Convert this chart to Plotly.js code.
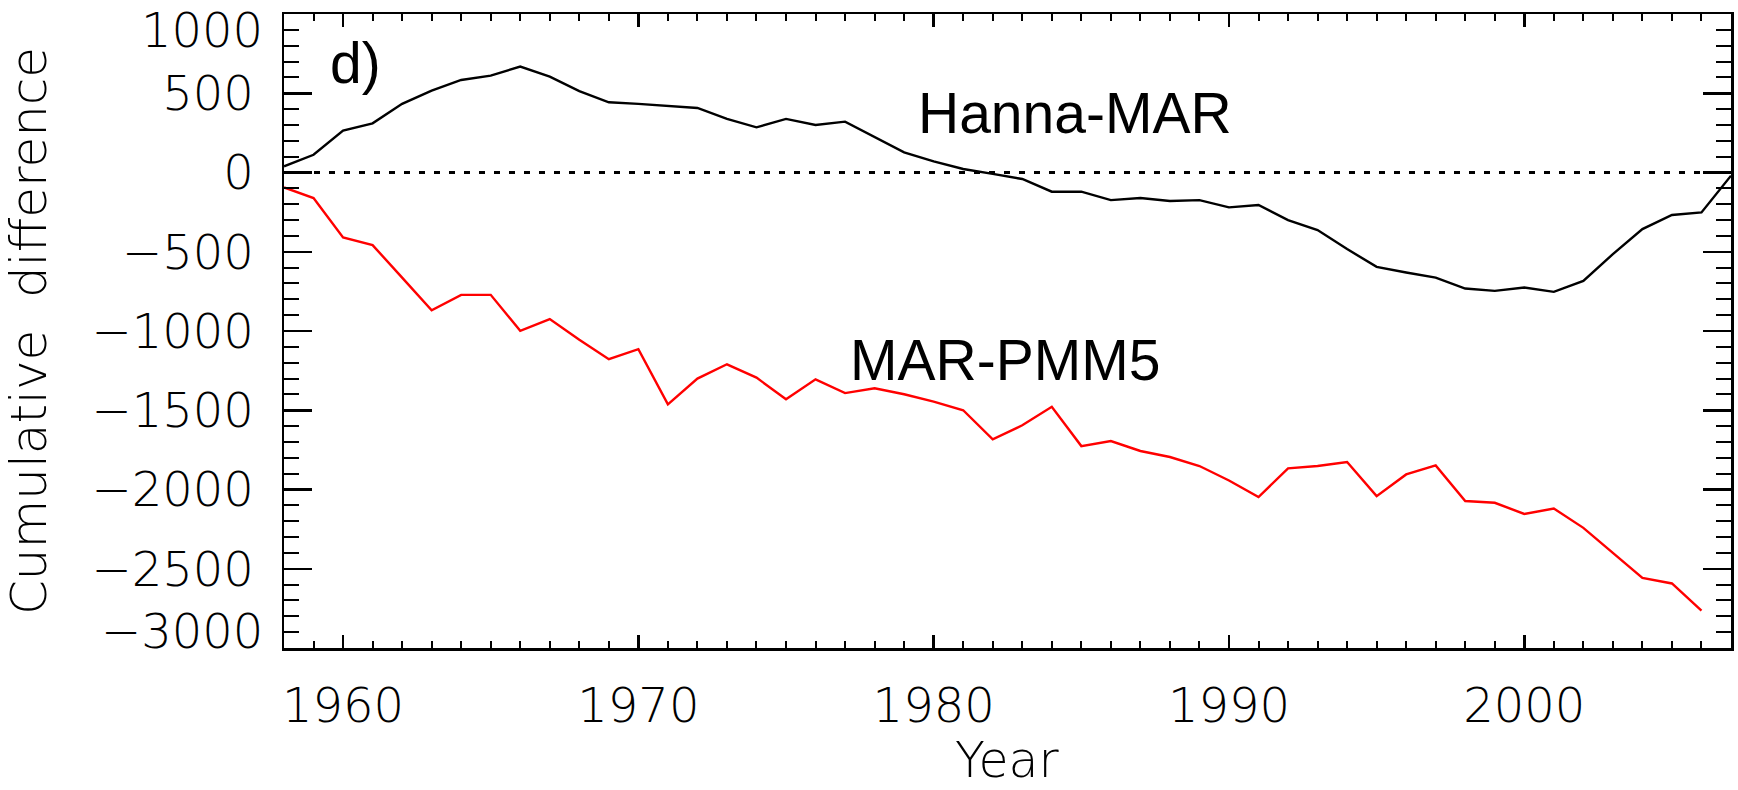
<!DOCTYPE html>
<html>
<head>
<meta charset="utf-8">
<script src="https://cdn.plot.ly/plotly-3.0.1.min.js"></script>
<style>
html, body { margin: 0; padding: 0; background: #ffffff; }
#chart { width: 1738px; height: 790px; }
</style>
</head>
<body>
<div id="chart"></div>
<script>
// Years of the record
const yearsHanna = [1958,1959,1960,1961,1962,1963,1964,1965,1966,1967,1968,1969,1970,1971,1972,1973,1974,1975,1976,1977,1978,1979,1980,1981,1982,1983,1984,1985,1986,1987,1988,1989,1990,1991,1992,1993,1994,1995,1996,1997,1998,1999,2000,2001,2002,2003,2004,2005,2006,2007];
const yearsPmm5 = [1958,1959,1960,1961,1962,1963,1964,1965,1966,1967,1968,1969,1970,1971,1972,1973,1974,1975,1976,1977,1978,1979,1980,1981,1982,1983,1984,1985,1986,1987,1988,1989,1990,1991,1992,1993,1994,1995,1996,1997,1998,1999,2000,2001,2002,2003,2004,2005,2006];

// Cumulative difference, Hanna - MAR
const hannaMar = [39,112,264,310,433,517,584,611,668,605,514,443,433,420,407,338,285,338,300,321,222,127,70,22,-9,-41,-121,-121,-174,-161,-180,-174,-220,-205,-300,-363,-483,-595,-631,-663,-732,-747,-726,-753,-684,-515,-357,-268,-252,-20];

// Cumulative difference, MAR - PMM5
const marPmm5 = [-94,-161,-410,-458,-663,-869,-772,-772,-999,-925,-1055,-1178,-1115,-1463,-1300,-1210,-1294,-1431,-1305,-1392,-1361,-1399,-1446,-1500,-1684,-1595,-1478,-1726,-1694,-1757,-1795,-1852,-1943,-2048,-1867,-1852,-1827,-2042,-1905,-1848,-2073,-2084,-2154,-2120,-2242,-2400,-2558,-2593,-2764];

// Tick labels and titles
const xTickVals = [1960, 1970, 1980, 1990, 2000];
const xTickText = ['1960', '1970', '1980', '1990', '2000'];
const yTickVals = [1000, 500, 0, -500, -1000, -1500, -2000, -2500, -3000];
const yTickText = ['', '500', '0', '\u2212500', '\u22121000', '\u22121500', '\u22122000', '\u22122500', ''];
const yEndLabels = ['1000', '\u22123000'];
const xTitle = 'Year';
const yTitle = 'Cumulative  difference';

const tickFont = { family: '"DejaVu Sans", Lato, sans-serif', size: 48, color: '#000', weight: 200 };
const titleFont = { family: '"DejaVu Sans", Lato, sans-serif', size: 50, color: '#000', weight: 200 };
const xTitleFont = { family: '"DejaVu Sans", Lato, sans-serif', size: 49, color: '#000', weight: 200 };
const textFont = { family: '"Liberation Sans", Arial, sans-serif', size: 57, color: '#000' };

const traces = [
  {
    x: yearsHanna, y: hannaMar, type: 'scatter', mode: 'lines',
    line: { color: '#000000', width: 2.4 }, showlegend: false, hoverinfo: 'x+y'
  },
  {
    x: yearsPmm5, y: marPmm5, type: 'scatter', mode: 'lines',
    line: { color: '#ff0000', width: 2.4 }, showlegend: false, hoverinfo: 'x+y'
  }
];

const layout = {
  width: 1738, height: 790,
  margin: { l: 284, r: 7, t: 14, b: 142 },
  paper_bgcolor: '#ffffff', plot_bgcolor: '#ffffff',
  showlegend: false,
  xaxis: {
    range: [1958, 2007],
    tickmode: 'array', tickvals: xTickVals, ticktext: xTickText,
    ticks: 'inside', ticklen: 13, tickwidth: 2.5, tickcolor: '#000',
    minor: { tickmode: 'linear', tick0: 1958, dtick: 1, ticks: 'inside', ticklen: 7, tickwidth: 2, tickcolor: '#000' },
    showline: true, linecolor: '#000', linewidth: 2.5, mirror: 'ticks',
    showgrid: false, zeroline: false,
    tickfont: tickFont, ticklabelstandoff: 14,
    automargin: false
  },
  yaxis: {
    range: [-3000, 1000],
    tickmode: 'array', tickvals: yTickVals, ticktext: yTickText,
    ticks: 'inside', ticklen: 28, tickwidth: 2.5, tickcolor: '#000',
    minor: { tickmode: 'linear', tick0: 0, dtick: 100, ticks: 'inside', ticklen: 15, tickwidth: 2, tickcolor: '#000' },
    showline: true, linecolor: '#000', linewidth: 2.5, mirror: 'ticks',
    showgrid: false, zeroline: false,
    tickfont: tickFont, ticklabelstandoff: 18,
    title: { text: yTitle, font: titleFont, standoff: 37 },
    automargin: false
  },
  shapes: [
    { type: 'line', xref: 'paper', x0: 0, x1: 1, yref: 'y', y0: 0, y1: 0,
      line: { color: '#000', width: 3, dash: '6px,9px' } }
  ],
  annotations: [
    { xref: 'paper', x: 0.5, xanchor: 'center', yref: 'paper', y: -0.1782, yanchor: 'middle',
      text: xTitle, showarrow: false, font: xTitleFont },
    { xref: 'paper', x: 0, xanchor: 'right', xshift: -19, yref: 'y', y: 896, yanchor: 'middle',
      text: yEndLabels[0], showarrow: false, font: tickFont },
    { xref: 'paper', x: 0, xanchor: 'right', xshift: -19, yref: 'y', y: -2894, yanchor: 'middle',
      text: yEndLabels[1], showarrow: false, font: tickFont },
    { xref: 'x', x: 1959.5, xanchor: 'left', yref: 'y', y: 694, yanchor: 'middle',
      text: 'd)', showarrow: false, font: textFont },
    { xref: 'x', x: 1979.4, xanchor: 'left', yref: 'y', y: 377, yanchor: 'middle',
      text: 'Hanna-MAR', showarrow: false, font: textFont },
    { xref: 'x', x: 1977.1, xanchor: 'left', yref: 'y', y: -1183, yanchor: 'middle',
      text: 'MAR-PMM5', showarrow: false, font: textFont }
  ]
};

Plotly.newPlot('chart', traces, layout, { displayModeBar: false, staticPlot: true });
</script>
</body>
</html>
